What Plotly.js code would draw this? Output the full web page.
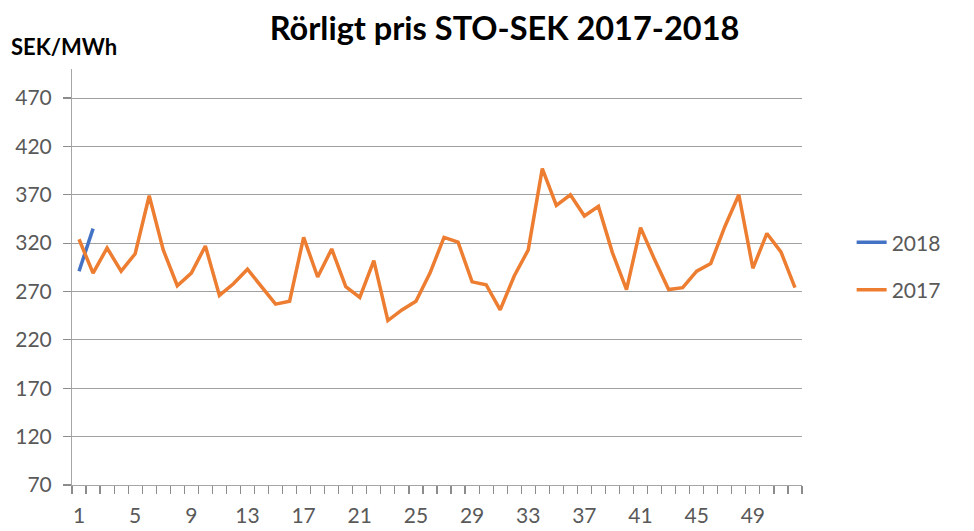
<!DOCTYPE html>
<html>
<head>
<meta charset="utf-8">
<script src="https://cdn.plot.ly/plotly-3.0.1.min.js"></script>
<style>html,body{margin:0;padding:0;background:#fff;}#chart{width:974px;height:531px;}</style>
</head>
<body>
<div id="chart"></div>
<script>
const weeks = Array.from({length: 52}, (_, i) => i + 1);
const weeks2018 = [1, 2];
const values2018 = [291, 335];
const values2017 = [324, 289, 315, 291, 309, 369, 313, 276, 289, 317,
                    266, 278, 293, 275, 257, 260, 326, 285, 314, 275,
                    264, 302, 240, 251, 260, 289, 326, 321, 280, 277,
                    251, 286, 313, 397, 359, 370, 348, 358, 310, 272,
                    336, 303, 272, 274, 291, 299, 337, 370, 294, 330,
                    311, 274];
const yTicks = [70, 120, 170, 220, 270, 320, 370, 420, 470];
const xTicks = [1, 5, 9, 13, 17, 21, 25, 29, 33, 37, 41, 45, 49];

// Category-boundary tick marks (between weeks), labels shifted to category centres
const boundaryVals = Array.from({length: 53}, (_, i) => i + 0.5);
const boundaryText = boundaryVals.map(v => xTicks.includes(v + 0.5) ? String(v + 0.5) : '');

const FONT = 'Lato, "Open Sans", sans-serif';
const traces = [
  {x: weeks2018, y: values2018, name: '2018', type: 'scatter', mode: 'lines',
   line: {color: '#4472C4', width: 3.5}, legendgroup: 'a'},
  {x: weeks, y: values2017, name: '2017', type: 'scatter', mode: 'lines',
   line: {color: '#ED7D31', width: 3.5}, legendgroup: 'b'}
];
const layout = {
  width: 974, height: 531,
  margin: {l: 72, r: 172, t: 69, b: 46},
  paper_bgcolor: '#fff', plot_bgcolor: '#fff',
  font: {family: FONT, color: '#595959', size: 21},
  title: {text: '<b>Rörligt pris STO-SEK 2017-2018</b>', x: 0.518, xref: 'container', xanchor: 'center',
          y: 0.947, yref: 'container', yanchor: 'middle',
          font: {family: FONT, size: 32.5, color: '#000'}},
  xaxis: {type: 'linear', range: [0.5, 52.5], tickmode: 'array', tickvals: boundaryVals, ticktext: boundaryText,
          ticks: 'outside', ticklen: 8, tickcolor: '#8c8c8c', tickwidth: 1.2,
          ticklabelshift: 7, ticklabelstandoff: 4,
          showgrid: false, zeroline: false, showline: true, linecolor: '#a6a6a6', linewidth: 1,
          tickfont: {family: FONT, size: 21, color: '#595959'}, fixedrange: true},
  yaxis: {type: 'linear', range: [70, 500], tickmode: 'array', tickvals: yTicks, ticktext: yTicks.map(String),
          ticks: 'outside', ticklen: 8, tickcolor: '#8c8c8c', tickwidth: 1.2,
          showgrid: true, gridcolor: '#a0a0a0', gridwidth: 1,
          zeroline: false, showline: true, linecolor: '#a6a6a6', linewidth: 1, ticklabelstandoff: 7,
          tickfont: {family: FONT, size: 21, color: '#595959'}, fixedrange: true},
  showlegend: true,
  legend: {x: 1.068, xanchor: 'left', y: 0.526, yanchor: 'middle', xref: 'paper', yref: 'paper',
           tracegroupgap: 17, traceorder: 'grouped',
           font: {family: FONT, size: 21, color: '#595959'}, bgcolor: 'rgba(0,0,0,0)'},
  annotations: [
    {text: '<b>SEK/MWh</b>', xref: 'paper', yref: 'paper', x: -0.086, y: 1.0 + 22/416, xanchor: 'left', yanchor: 'middle',
     showarrow: false, font: {family: FONT, size: 22, color: '#000'}}
  ]
};
Plotly.newPlot('chart', traces, layout, {displayModeBar: false, staticPlot: true});
</script>
</body>
</html>
